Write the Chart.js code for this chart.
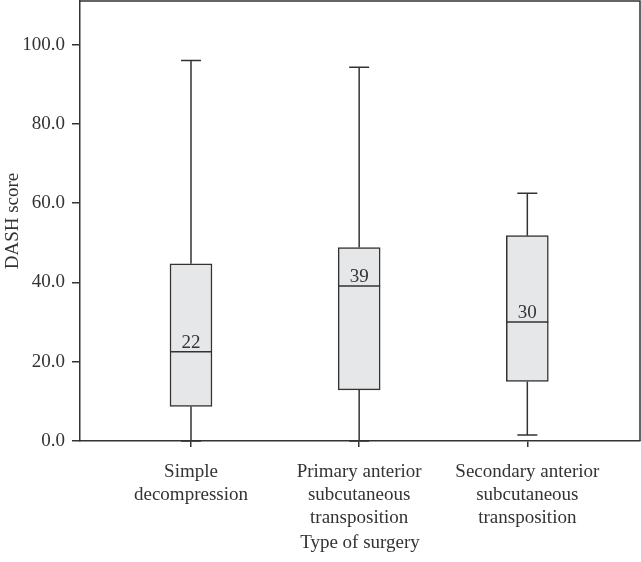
<!DOCTYPE html>
<html>
<head>
<meta charset="utf-8">
<script src="https://cdn.jsdelivr.net/npm/chart.js@4/dist/chart.umd.min.js"></script>
<style>
  html, body { margin: 0; padding: 0; background: #fff; }
  #wrap { width: 641px; height: 562px; position: relative; }
</style>
</head>
<body>
<div id="wrap"><canvas id="boxChart"></canvas></div>
<script>
// --- DATA ---
const categories = [
    ['Simple', 'decompression'],
    ['Primary anterior', 'subcutaneous', 'transposition'],
    ['Secondary anterior', 'subcutaneous', 'transposition']
];
const whiskerLow = [0, 0, 1.5];
const q1 = [8.7, 12.9, 15.0];
const median = [22.5, 39.1, 30.0];
const q3 = [44.7, 48.8, 51.8];
const whiskerHigh = [96.0, 94.3, 62.5];
const medianLabels = ['22', '39', '30'];
const yTicks = [0, 20, 40, 60, 80, 100];

const INK = '#333';
const FONT = 'Liberation Serif';

// boxes as floating bars [q1, q3] at x = 1, 2, 3
const boxData = categories.map((c, i) => ({ x: i + 1, y: [q1[i], q3[i]] }));

// whiskers, caps, medians and their labels
const boxPlotExtras = {
    id: 'boxPlotExtras',
    afterDatasetsDraw(chart) {
        const { ctx, scales: { x, y } } = chart;
        ctx.save();
        ctx.strokeStyle = INK;
        ctx.lineWidth = 1.5;
        categories.forEach((c, i) => {
            const cx = x.getPixelForValue(i + 1);
            const half = 21;
            const cap = 10;
            ctx.beginPath();
            // upper whisker
            ctx.moveTo(cx, y.getPixelForValue(q3[i]));
            ctx.lineTo(cx, y.getPixelForValue(whiskerHigh[i]));
            ctx.moveTo(cx - cap, y.getPixelForValue(whiskerHigh[i]));
            ctx.lineTo(cx + cap, y.getPixelForValue(whiskerHigh[i]));
            // lower whisker
            ctx.moveTo(cx, y.getPixelForValue(q1[i]));
            ctx.lineTo(cx, y.getPixelForValue(whiskerLow[i]));
            ctx.moveTo(cx - cap, y.getPixelForValue(whiskerLow[i]));
            ctx.lineTo(cx + cap, y.getPixelForValue(whiskerLow[i]));
            // median
            ctx.moveTo(cx - half, y.getPixelForValue(median[i]));
            ctx.lineTo(cx + half, y.getPixelForValue(median[i]));
            ctx.stroke();

            ctx.fillStyle = INK;
            ctx.font = '19px "' + FONT + '"';
            ctx.textAlign = 'center';
            ctx.textBaseline = 'alphabetic';
            ctx.fillText(medianLabels[i], cx, y.getPixelForValue(median[i]) - 4);
        });
        ctx.restore();
    },
    afterDraw(chart) {
        // frame on top and right of plot area
        const { ctx, chartArea: a } = chart;
        ctx.save();
        ctx.strokeStyle = INK;
        ctx.lineWidth = 1.5;
        ctx.beginPath();
        ctx.moveTo(a.left, a.top);
        ctx.lineTo(a.right, a.top);
        ctx.lineTo(a.right, a.bottom);
        ctx.stroke();
        ctx.restore();
    }
};

const ctx = document.getElementById('boxChart').getContext('2d');
new Chart(ctx, {
    type: 'bar',
    data: {
        datasets: [{
            data: boxData,
            backgroundColor: '#e6e7e9',
            borderColor: INK,
            borderWidth: 1.5,
            borderSkipped: false,
            barThickness: 42
        }]
    },
    options: {
        responsive: true,
        maintainAspectRatio: false,
        animation: false,
        layout: { padding: { top: 1, right: 1 } },
        plugins: {
            legend: { display: false },
            tooltip: { enabled: false }
        },
        scales: {
            x: {
                type: 'linear',
                offset: false,
                min: 0.34,
                max: 3.67,
                afterBuildTicks: (scale) => {
                    scale.ticks = categories.map((c, i) => ({ value: i + 1 }));
                },
                afterFit: (scale) => {
                    scale.height = 121;
                    scale.paddingLeft = 0;
                    scale.paddingRight = 0;
                },
                ticks: {
                    color: INK,
                    autoSkip: false,
                    maxRotation: 0,
                    padding: 14,
                    font: { family: FONT, size: 19, lineHeight: 1.21 },
                    callback: (v) => categories[Math.round(v) - 1]
                },
                grid: { display: true, offset: false, drawOnChartArea: false, tickLength: 6, color: INK, lineWidth: 1.5 },
                border: { display: true, color: INK, width: 1.5 },
                title: {
                    display: true,
                    text: 'Type of surgery',
                    color: INK,
                    font: { family: FONT, size: 19 },
                    padding: { top: 0, bottom: 8 }
                }
            },
            y: {
                min: 0,
                max: 111,
                afterBuildTicks: (scale) => {
                    scale.ticks = yTicks.map(v => ({ value: v }));
                },
                afterFit: (scale) => {
                    scale.width = 80;
                    scale.paddingTop = 0;
                    scale.paddingBottom = 0;
                },
                ticks: {
                    color: INK,
                    padding: 7,
                    font: { family: FONT, size: 19 },
                    callback: (v) => v.toFixed(1)
                },
                grid: { display: true, drawOnChartArea: false, tickLength: 8, color: INK, lineWidth: 1.5 },
                border: { display: true, color: INK, width: 1.5 },
                title: {
                    display: true,
                    text: 'DASH score',
                    color: INK,
                    font: { family: FONT, size: 19 },
                    padding: { top: 2, bottom: 0 }
                }
            }
        }
    },
    plugins: [boxPlotExtras]
});
</script>
</body>
</html>
